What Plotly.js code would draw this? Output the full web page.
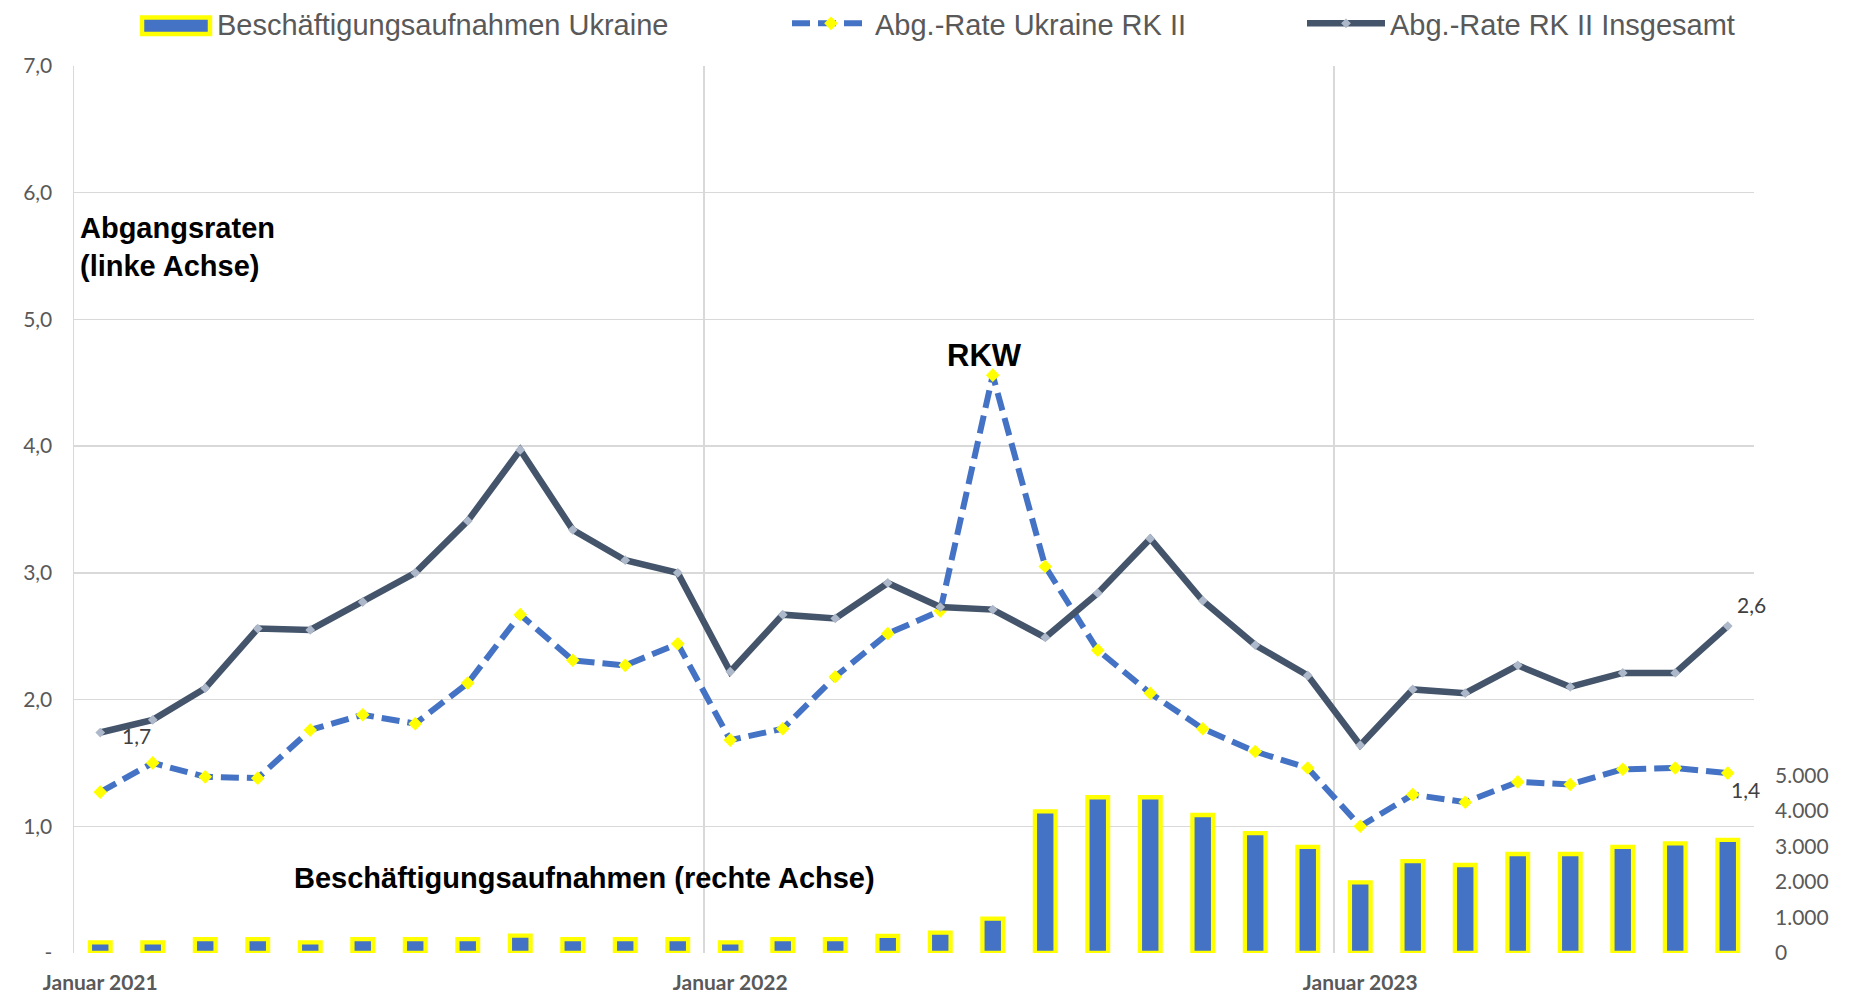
<!DOCTYPE html>
<html>
<head>
<meta charset="utf-8">
<script src="https://cdn.plot.ly/plotly-3.0.1.min.js"></script>
<style>
  html, body { margin: 0; padding: 0; background: #ffffff; }
  #chart { width: 1849px; height: 993px; }
</style>
</head>
<body>
<div id="chart"></div>
<script>
// ---- Data ----
const months = ['2021-01','2021-02','2021-03','2021-04','2021-05','2021-06','2021-07','2021-08','2021-09','2021-10','2021-11','2021-12',
                '2022-01','2022-02','2022-03','2022-04','2022-05','2022-06','2022-07','2022-08','2022-09','2022-10','2022-11','2022-12',
                '2023-01','2023-02','2023-03','2023-04','2023-05','2023-06','2023-07','2023-08'];
const tickMonths = ['2021-01','2022-01','2023-01'];
const tickLabels = ['Januar 2021','Januar 2022','Januar 2023'];

const beschaeftigung = [300,300,390,390,300,390,390,390,490,390,390,390,
                        300,390,390,480,575,970,3990,4390,4390,3890,3380,2990,
                        1990,2590,2480,2790,2790,2990,3090,3190];
const rateUkraine = [1.27,1.50,1.39,1.38,1.76,1.88,1.81,2.13,2.67,2.31,2.27,2.44,
                     1.68,1.77,2.18,2.52,2.70,4.56,3.05,2.39,2.05,1.77,1.59,1.46,
                     1.00,1.25,1.19,1.35,1.33,1.45,1.46,1.42];
const rateInsgesamt = [1.74,1.84,2.09,2.56,2.55,2.77,3.00,3.41,3.97,3.34,3.10,3.00,
                       2.22,2.67,2.64,2.92,2.73,2.71,2.49,2.84,3.27,2.78,2.43,2.19,
                       1.64,2.08,2.05,2.27,2.10,2.21,2.21,2.58];

const seriesNames = ['Beschäftigungsaufnahmen Ukraine', 'Abg.-Rate Ukraine RK II', 'Abg.-Rate RK II Insgesamt'];

const leftTicks = [0,1,2,3,4,5,6,7];
const leftTickText = ['-','1,0','2,0','3,0','4,0','5,0','6,0','7,0'];
const rightTicks = [0,1000,2000,3000,4000,5000];
const rightTickText = ['0','1.000','2.000','3.000','4.000','5.000'];

// ---- Helpers ----
const xIdx = months.map((m, i) => i);
const tickIdx = tickMonths.map(m => months.indexOf(m));
const yearBoundaries = tickMonths.slice(1).map(m => months.indexOf(m) - 0.5);
const fmt = v => v.toFixed(1).replace('.', ',');
const last = months.length - 1;

const W = 1849, H = 993;
const M = {l: 74, r: 95, t: 66, b: 40};
const plotW = W - M.l - M.r, plotH = H - M.t - M.b;
const px2paperX = px => (px - M.l) / plotW;
const px2paperY = py => (H - M.b - py) / plotH;

const tickFont = {family: 'Lato, "Open Sans", sans-serif', size: 21, color: '#595959'};
const boldFont = {family: '"Liberation Sans", Arial, sans-serif', size: 29, color: '#000000'};
const legendFont = {family: '"Liberation Sans", Arial, sans-serif', size: 29, color: '#595959'};
const labelFont = {family: 'Lato, "Open Sans", sans-serif', size: 21, color: '#404040'};
const gridColor = '#d9d9d9';
const barBlue = '#4472c4', barYellow = '#ffff00';

const traces = [
  {
    type: 'bar', name: seriesNames[0], showlegend: false,
    x: xIdx, y: beschaeftigung, yaxis: 'y',
    width: 0.394,
    marker: {color: barBlue, line: {color: barYellow, width: 4.3}},
    hoverinfo: 'y'
  },
  {
    // legend entry for the bar series (its wide symbol is drawn as a layout shape)
    type: 'scatter', mode: 'lines', name: seriesNames[0], legend: 'legend',
    x: [null], y: [null], yaxis: 'y', line: {color: 'rgba(0,0,0,0)', width: 0}, hoverinfo: 'skip'
  },
  {
    type: 'scatter', mode: 'lines+markers', name: seriesNames[1],
    x: xIdx, y: rateUkraine, yaxis: 'y2', legend: 'legend2',
    line: {color: '#4472c4', width: 6, dash: '18px,8px'},
    marker: {symbol: 'diamond', size: 10.5, color: '#ffff00', line: {width: 0}}
  },
  {
    type: 'scatter', mode: 'lines+markers', name: seriesNames[2],
    x: xIdx, y: rateInsgesamt, yaxis: 'y2', legend: 'legend3',
    line: {color: '#44546a', width: 6.5},
    marker: {symbol: 'diamond', size: 7.5, color: '#adb9ca', line: {width: 0}}
  }
];

const legendY = px2paperY(23.5);
const legendCommon = {
  orientation: 'h', yanchor: 'middle', xanchor: 'left', y: legendY,
  font: legendFont, bgcolor: 'rgba(0,0,0,0)', itemwidth: 78
};

const layout = {
  width: W, height: H,
  margin: Object.assign({autoexpand: false}, M),
  paper_bgcolor: '#ffffff', plot_bgcolor: '#ffffff',
  showlegend: true,
  legend: Object.assign({}, legendCommon, {x: px2paperX(129)}),
  legend2: Object.assign({}, legendCommon, {x: px2paperX(787)}),
  legend3: Object.assign({}, legendCommon, {x: px2paperX(1302)}),
  bargap: 0,
  xaxis: {
    range: [-0.5, months.length - 0.5],
    tickmode: 'array', tickvals: tickIdx, ticktext: tickLabels,
    tickfont: Object.assign({}, tickFont, {weight: 'bold'}),
    showgrid: false, zeroline: false, showline: false, ticks: '',
    ticklabelstandoff: 15,
    minor: {tickmode: 'array', tickvals: yearBoundaries, showgrid: true, gridcolor: gridColor, gridwidth: 1.5, ticks: ''},
    automargin: false, fixedrange: true
  },
  yaxis: {
    side: 'right', range: [0, 25000],
    tickmode: 'array', tickvals: rightTicks, ticktext: rightTickText,
    tickfont: tickFont, showgrid: false, zeroline: false, showline: false, ticks: '',
    ticklabelstandoff: 20, automargin: false, fixedrange: true
  },
  yaxis2: {
    overlaying: 'y', side: 'left', range: [0, 7],
    tickmode: 'array', tickvals: leftTicks, ticktext: leftTickText,
    tickfont: tickFont, showgrid: true, gridcolor: gridColor, gridwidth: 1.5,
    zeroline: false, showline: true, linecolor: gridColor, linewidth: 1.5, ticks: '',
    ticklabelstandoff: 16, automargin: false, fixedrange: true
  },
  shapes: [
    // wide legend symbol for the bar series
    {type: 'rect', xref: 'paper', yref: 'paper',
     x0: px2paperX(142), x1: px2paperX(210), y0: px2paperY(34), y1: px2paperY(17.5),
     fillcolor: barBlue, line: {color: barYellow, width: 4.5}, layer: 'above'}
  ],
  annotations: [
    {xref: 'x', yref: 'y2', x: -0.5, y: 5.57, xshift: 4, xanchor: 'left', yanchor: 'middle', align: 'left',
     text: '<b>Abgangsraten<br>(linke Achse)</b>', showarrow: false, font: boldFont},
    {xref: 'x', yref: 'y2', x: 17, y: rateUkraine[17], xshift: -8, yshift: 20, xanchor: 'center', yanchor: 'middle',
     text: '<b>RKW</b>', showarrow: false, font: Object.assign({}, boldFont, {size: 31})},
    {xref: 'x', yref: 'y2', x: 3.66, y: 0.59, xanchor: 'left', yanchor: 'middle',
     text: '<b>Beschäftigungsaufnahmen (rechte Achse)</b>', showarrow: false, font: boldFont},
    {xref: 'x', yref: 'y2', x: 0, y: rateInsgesamt[0], xshift: 20, yshift: -3, xanchor: 'left', yanchor: 'middle',
     text: fmt(rateInsgesamt[0]), showarrow: false, font: labelFont},
    {xref: 'x', yref: 'y2', x: last, y: rateInsgesamt[last], xshift: 7, yshift: 22, xanchor: 'left', yanchor: 'middle',
     text: fmt(rateInsgesamt[last]), showarrow: false, font: labelFont},
    {xref: 'x', yref: 'y2', x: last, y: rateUkraine[last], xshift: 1, yshift: -16, xanchor: 'left', yanchor: 'middle',
     text: fmt(rateUkraine[last]), showarrow: false, font: labelFont}
  ]
};

Plotly.newPlot('chart', traces, layout, {displayModeBar: false, staticPlot: true});
</script>
</body>
</html>
